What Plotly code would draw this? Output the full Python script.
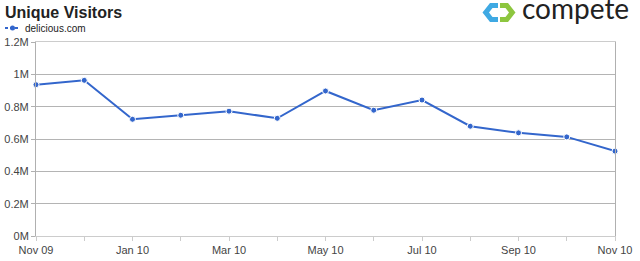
import plotly.graph_objects as go

months = ["Nov 09", "Dec 09", "Jan 10", "Feb 10", "Mar 10", "Apr 10", "May 10",
          "Jun 10", "Jul 10", "Aug 10", "Sep 10", "Oct 10", "Nov 10"]
visitors = [936000, 963000, 722000, 747000, 772000, 728000, 897000,
            778000, 841000, 679000, 638000, 613000, 525000]
y_ticks = [0, 200000, 400000, 600000, 800000, 1000000, 1200000]
y_labels = ["0M", "0.2M", "0.4M", "0.6M", "0.8M", "1M", "1.2M"]
series_name = "delicious.com"
title_text = "Unique Visitors"

x_idx = list(range(len(months)))
x_labels = [m if i % 2 == 0 else "" for i, m in enumerate(months)]

W, H = 640, 261
L, R, T, B = 36, 25, 42, 25
pw, ph = W - L - R, H - T - B

def px(x, y):
    return (x - L) / pw, (H - B - y) / ph

def path(points):
    s = ""
    for i, (x, y) in enumerate(points):
        a, b = px(x, y)
        s += ("M" if i == 0 else "L") + f"{a:.5f},{b:.5f} "
    return s + "Z"

BLUE = "#3366cc"

fig = go.Figure()
fig.add_trace(go.Scatter(
    x=x_idx, y=visitors, mode="lines+markers", name=series_name,
    line=dict(color=BLUE, width=2),
    marker=dict(color=BLUE, size=6, line=dict(color="white", width=1)),
    showlegend=False, cliponaxis=False,
))

shapes = []
# logo icon
blue_pts = [(498, 3), (490, 3), (482.5, 12.5), (490, 22), (498, 22), (498, 17),
            (492.5, 17), (489, 12.5), (492.5, 8), (498, 8)]
green_pts = [(500, 3), (508, 3), (515.5, 12.5), (508, 22), (500, 22), (500, 17),
             (505.5, 17), (509, 12.5), (505.5, 8), (500, 8)]
shapes.append(dict(type="path", xref="paper", yref="paper", path=path(blue_pts),
                   fillcolor="#3fa9e3", line=dict(width=0)))
shapes.append(dict(type="path", xref="paper", yref="paper", path=path(green_pts),
                   fillcolor="#8dc63f", line=dict(width=0)))
# legend symbol
x0, y0 = px(5, 28)
x1, _ = px(20, 28)
shapes.append(dict(type="line", xref="paper", yref="paper", x0=x0, x1=x1, y0=y0, y1=y0,
                   line=dict(color=BLUE, width=2, dash="3px,2px")))
cx, cy = px(12.5, 28)
rx, ry = 2.5 / pw, 2.5 / ph
shapes.append(dict(type="circle", xref="paper", yref="paper", x0=cx - rx, x1=cx + rx,
                   y0=cy - ry, y1=cy + ry, fillcolor=BLUE, line=dict(width=0)))

annotations = []
tx, ty = px(3, 2)
annotations.append(dict(text=f"<b>{title_text}</b>", xref="paper", yref="paper", x=tx, y=ty,
                        xanchor="left", yanchor="top", showarrow=False,
                        font=dict(family="Liberation Sans, Arial", size=16, color="#222")))
lx, ly = px(23, 28)
annotations.append(dict(text=series_name, xref="paper", yref="paper", x=lx, y=ly,
                        xanchor="left", yanchor="middle", showarrow=False,
                        font=dict(family="Liberation Sans, Arial", size=10, color="#222")))
cx2, cy2 = px(520, -11)
annotations.append(dict(text="compete", xref="paper", yref="paper", x=cx2, y=cy2,
                        xanchor="left", yanchor="top", showarrow=False,
                        font=dict(family="Lato", size=28, color="#222")))

fig.update_layout(
    width=W, height=H,
    margin=dict(l=L, r=R, t=T, b=B, autoexpand=False),
    paper_bgcolor="white", plot_bgcolor="white",
    shapes=shapes, annotations=annotations,
    font=dict(family="Liberation Sans, Arial", size=11, color="#444"),
    xaxis=dict(
        range=[0, len(months) - 1], tickmode="array", tickvals=x_idx, ticktext=x_labels,
        showgrid=False, zeroline=False, showline=True, linecolor="#cccccc", linewidth=1,
        mirror=True, ticks="outside", ticklen=4, tickcolor="#cccccc", automargin=False,
        tickfont=dict(size=11, color="#444"), fixedrange=True,
    ),
    yaxis=dict(
        range=[0, 1200000], tickmode="array", tickvals=y_ticks, ticktext=y_labels,
        showgrid=True, gridcolor="#b4b4b4", gridwidth=1, zeroline=False,
        showline=True, linecolor="#b0b0b0", linewidth=1, mirror=True, automargin=False,
        ticks="outside", ticklen=4, tickcolor="#b0b0b0",
        tickfont=dict(size=11, color="#444"), fixedrange=True,
    ),
)

fig.write_html("out.html", config={"displayModeBar": False})
